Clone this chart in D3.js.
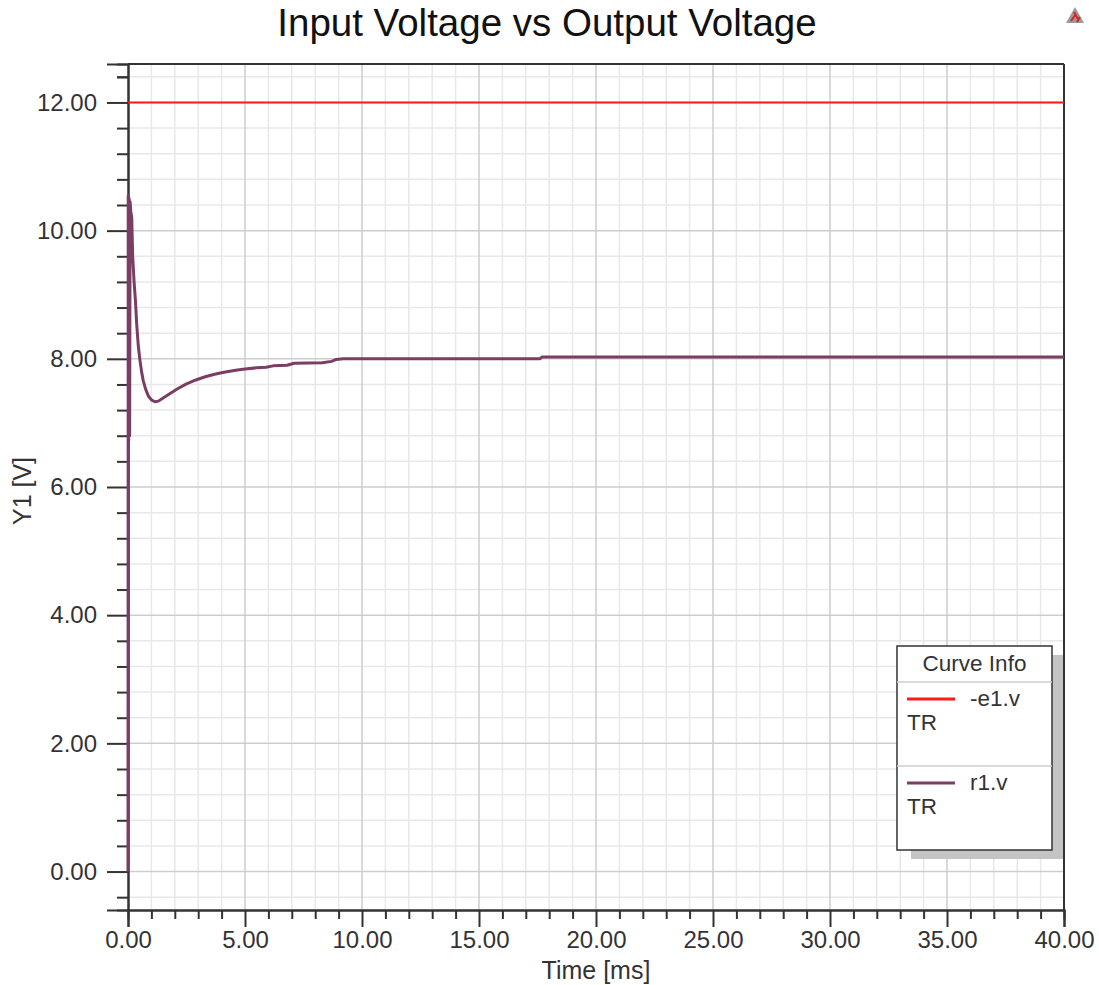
<!DOCTYPE html>
<html>
<head>
<meta charset="utf-8">
<script src="https://cdn.jsdelivr.net/npm/d3@7"></script>
<style>
  html, body { margin: 0; padding: 0; background: #fff; }
  svg { display: block; font-family: Arial, "Liberation Sans", sans-serif; }
</style>
</head>
<body>
<svg id="chart" width="1099" height="985"></svg>
<script>
// ---- data ----
const chartTitle = "Input Voltage vs Output Voltage";
const xLabel = "Time [ms]";
const yLabel = "Y1 [V]";
const xTickValues = [0, 5, 10, 15, 20, 25, 30, 35, 40];
const yTickValues = [0, 2, 4, 6, 8, 10, 12];
const seriesNames = ["-e1.v", "r1.v"];
const seriesSub = ["TR", "TR"];

// input voltage (-e1.v)
const inputTime = [0, 40];
const inputVolt = [12.0, 12.0];

// output voltage (r1.v)
const outputTime = [0, 0.01, 0.03, 0.05, 0.07, 0.09, 0.12, 0.16, 0.2, 0.26, 0.32, 0.37, 0.44, 0.51, 0.58, 0.65, 0.76, 0.87, 1.0, 1.15, 1.3, 1.5, 1.8, 2.1, 2.5, 2.9, 3.3, 3.7, 4.1, 4.6, 5.0, 5.5, 5.9, 6.2, 6.8, 7.1, 8.3, 8.7, 8.9, 9.2, 17.6, 17.7, 40];
const outputVolt = [0, 10.55, 6.72, 10.5, 6.8, 10.45, 10.3, 10.2, 9.6, 9.2, 8.9, 8.55, 8.2, 7.98, 7.8, 7.66, 7.52, 7.42, 7.36, 7.33, 7.34, 7.39, 7.46, 7.53, 7.61, 7.67, 7.72, 7.76, 7.79, 7.82, 7.84, 7.86, 7.87, 7.89, 7.9, 7.93, 7.94, 7.96, 7.99, 8.0, 8.0, 8.03, 8.03];

// ---- layout ----
const colors = ["#ff1a1a", "#7a3d63"];
const svg = d3.select("#chart");
const pL = 128, pR = 1064, pT = 64, pB = 910;

const x = d3.scaleLinear().domain([0, 40]).range([pL, pR]);
const y = d3.scaleLinear().domain([-0.6, 12.6]).range([pB, pT]);

// grid
const xMinor = d3.range(1, 40, 1).filter(v => v % 5 !== 0);
const yMinor = d3.range(-0.4, 12.6, 0.4).map(v => +v.toFixed(1)).filter(v => Math.abs(v / 2 - Math.round(v / 2)) > 1e-6);

const grid = svg.append("g");
grid.selectAll(".gxm").data(xMinor).join("line")
  .attr("x1", d => x(d)).attr("x2", d => x(d)).attr("y1", pT).attr("y2", pB)
  .attr("stroke", "#e8e8e8").attr("stroke-width", 1.5);
grid.selectAll(".gym").data(yMinor).join("line")
  .attr("y1", d => y(d)).attr("y2", d => y(d)).attr("x1", pL).attr("x2", pR)
  .attr("stroke", "#e8e8e8").attr("stroke-width", 1.5);
grid.selectAll(".gxM").data(xTickValues.slice(1, -1)).join("line")
  .attr("x1", d => x(d)).attr("x2", d => x(d)).attr("y1", pT).attr("y2", pB)
  .attr("stroke", "#cdcdcd").attr("stroke-width", 1.5);
grid.selectAll(".gyM").data(yTickValues).join("line")
  .attr("y1", d => y(d)).attr("y2", d => y(d)).attr("x1", pL).attr("x2", pR)
  .attr("stroke", "#cdcdcd").attr("stroke-width", 1.5);

// frame (top & right)
svg.append("line").attr("x1", pL).attr("x2", pR).attr("y1", pT).attr("y2", pT)
  .attr("stroke", "#333").attr("stroke-width", 2);
svg.append("line").attr("x1", pR).attr("x2", pR).attr("y1", pT).attr("y2", pB)
  .attr("stroke", "#333").attr("stroke-width", 2);

// axes
const fmt = d3.format(".2f");
const xAxisMinor = svg.append("g").attr("transform", `translate(0,${pB})`)
  .call(d3.axisBottom(x).tickValues(xMinor).tickSize(9).tickFormat(""));
const xAxis = svg.append("g").attr("transform", `translate(0,${pB})`)
  .call(d3.axisBottom(x).tickValues(xTickValues).tickSize(17).tickPadding(4).tickFormat(fmt));
const yAxisMinor = svg.append("g").attr("transform", `translate(${pL},0)`)
  .call(d3.axisLeft(y).tickValues(yMinor.concat([12.4])).tickSize(11).tickFormat(""));
const yAxis = svg.append("g").attr("transform", `translate(${pL},0)`)
  .call(d3.axisLeft(y).tickValues(yTickValues).tickSize(21).tickPadding(10).tickFormat(fmt));

[xAxisMinor, xAxis, yAxisMinor, yAxis].forEach(g => {
  g.selectAll("path.domain").attr("stroke", "#333").attr("stroke-width", 2);
  g.selectAll(".tick line").attr("stroke", "#333").attr("stroke-width", 2);
  g.selectAll("text").attr("fill", "#333").style("font-size", "24px")
   .style("font-family", "Arial, 'Liberation Sans', sans-serif");
});

// series lines
const lineGen = d3.line().x(d => x(d[0])).y(d => y(d[1]));
const inputData = inputTime.map((t, i) => [t, inputVolt[i]]);
const outputData = outputTime.map((t, i) => [t, outputVolt[i]]);

svg.append("path").datum(inputData).attr("d", lineGen)
  .attr("fill", "none").attr("stroke", colors[0]).attr("stroke-width", 2);
svg.append("path").datum(outputData).attr("d", lineGen)
  .attr("fill", "none").attr("stroke", colors[1]).attr("stroke-width", 3)
  .attr("stroke-linejoin", "round");

// title and axis labels
svg.append("text").attr("x", 547).attr("y", 36).attr("text-anchor", "middle")
  .attr("fill", "#111").style("font-size", "38.5px").text(chartTitle);
svg.append("text").attr("x", (pL + pR) / 2).attr("y", 979).attr("text-anchor", "middle")
  .attr("fill", "#333").style("font-size", "25px").text(xLabel);
svg.append("text").attr("transform", `translate(31,${(pT + pB) / 2 + 4}) rotate(-90)`)
  .attr("text-anchor", "middle").attr("fill", "#333").style("font-size", "25px").text(yLabel);

// small logo at top-right
const logo = svg.append("g").attr("transform", "translate(1075,16)");
logo.append("path").attr("d", "M0,-9 L9,7 L-9,7 Z").attr("fill", "#9a9a9a");
logo.append("path").attr("d", "M-1,-4 L3,3 M-4,5 L1,-2 M2,6 L5,1").attr("stroke", "#e02020").attr("stroke-width", 2);

// legend
const lx = 897, ly = 646, lw = 155, lh = 204;
svg.append("rect").attr("x", lx + 14).attr("y", ly + 9).attr("width", pR - 1 - (lx + 14)).attr("height", lh)
  .attr("fill", "#c4c4c4");
svg.append("rect").attr("x", lx).attr("y", ly).attr("width", lw).attr("height", lh)
  .attr("fill", "#fff").attr("stroke", "#333").attr("stroke-width", 1.5);
svg.append("text").attr("x", lx + lw / 2).attr("y", ly + 25).attr("text-anchor", "middle")
  .attr("fill", "#333").style("font-size", "22.5px").text("Curve Info");
[36, 120].forEach(o => {
  svg.append("line").attr("x1", lx).attr("x2", lx + lw).attr("y1", ly + o).attr("y2", ly + o)
    .attr("stroke", "#cfcfcf").attr("stroke-width", 1.5);
});
seriesNames.forEach((name, i) => {
  const base = ly + 53 + i * 84;
  svg.append("line").attr("x1", lx + 10).attr("x2", lx + 58).attr("y1", base).attr("y2", base)
    .attr("stroke", colors[i]).attr("stroke-width", 3);
  svg.append("text").attr("x", lx + 73).attr("y", base + 7).attr("fill", "#333")
    .style("font-size", "22.5px").text(name);
  svg.append("text").attr("x", lx + 10).attr("y", base + 31).attr("fill", "#333")
    .style("font-size", "22.5px").text(seriesSub[i]);
});
</script>
</body>
</html>
